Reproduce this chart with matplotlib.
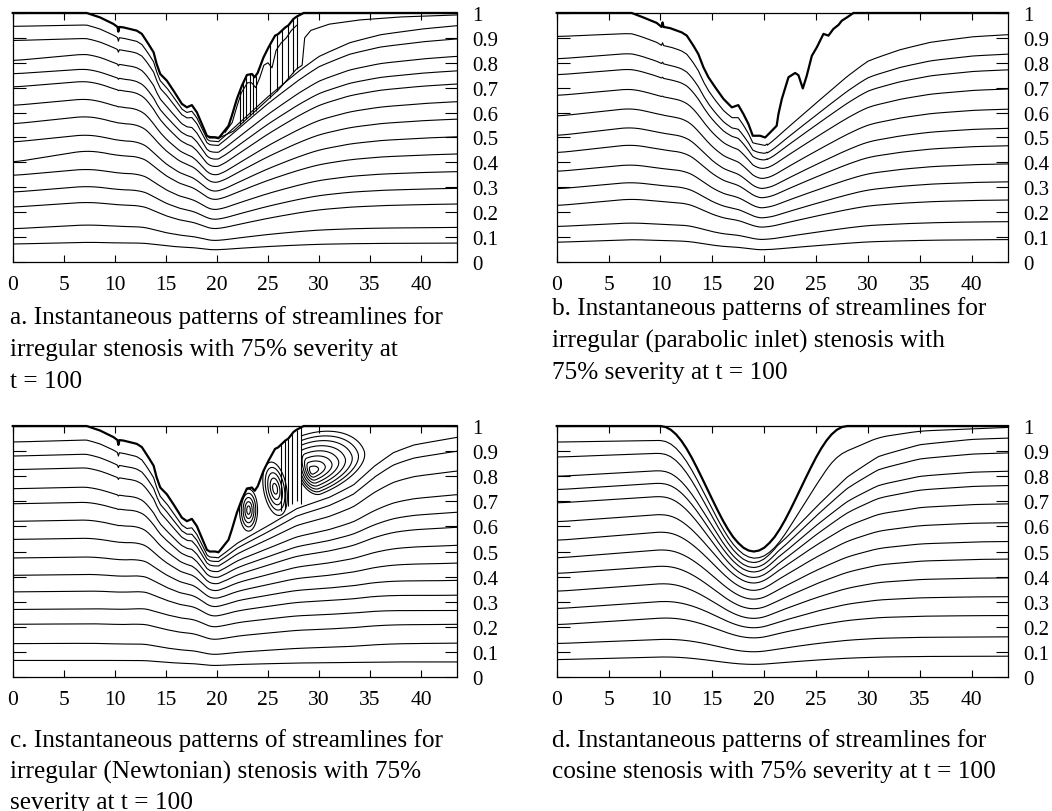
import numpy as np
import matplotlib.pyplot as plt

plt.rcParams['font.family'] = 'Liberation Serif'

X_MAX = 43.5
xs = np.linspace(0, X_MAX, 1741)

# irregular stenosis wall (panels a and c)
irr_wall_x = [0, 7.25, 8.56, 9.86, 10.26, 10.35, 10.45, 10.85, 12.15, 12.65, 13.3, 13.8, 14.1,
              14.45, 15.1, 15.75, 16.57, 17.06, 17.55, 18.04, 18.53, 19.02, 19.3, 19.83, 20.16,
              20.5, 21.14, 21.47, 21.96, 22.45, 22.94, 23.43, 23.7, 24.0, 24.57, 25.06, 25.7,
              26.0, 26.7, 27.0, 27.5, 27.8, 28.5, 43.5]
irr_wall_r = [1, 1, 0.982, 0.956, 0.944, 0.925, 0.944, 0.942, 0.929, 0.916, 0.875, 0.842, 0.795,
              0.755, 0.728, 0.688, 0.635, 0.621, 0.63, 0.601, 0.554, 0.507, 0.5, 0.5, 0.497,
              0.514, 0.547, 0.588, 0.655, 0.708, 0.751, 0.755, 0.742, 0.76, 0.822, 0.862, 0.909,
              0.915, 0.942, 0.95, 0.976, 0.985, 1, 1]

# irregular stenosis wall, parabolic inlet run (panel b)
par_wall_x = [0, 7.23, 8.35, 9.64, 10.1, 10.2, 10.3, 10.93, 12.05, 12.54, 13.17, 13.65, 14.14,
              14.62, 15.27, 16.07, 16.88, 17.5, 18.0, 18.48, 18.9, 19.6, 20.09, 20.57, 21.2,
              21.37, 21.7, 22.34, 22.98, 23.3, 23.72, 24.1, 24.59, 25.07, 25.71, 26.19, 26.67,
              27.16, 27.48, 27.97, 28.6, 43.5]
par_wall_r = [1, 1, 0.982, 0.96, 0.944, 0.962, 0.944, 0.939, 0.922, 0.909, 0.869, 0.835, 0.782,
              0.742, 0.702, 0.655, 0.621, 0.63, 0.594, 0.554, 0.507, 0.507, 0.5, 0.52, 0.547,
              0.594, 0.655, 0.742, 0.759, 0.75, 0.697, 0.748, 0.828, 0.862, 0.916, 0.909, 0.936,
              0.952, 0.969, 0.982, 1, 1]

# cosine stenosis wall (panel d)
cos_wall_x = [0, 10, 10.5, 11, 11.5, 12, 12.5, 13, 13.5, 14, 14.5, 15, 15.5, 16, 16.5, 17, 17.5,
              18, 18.5, 19, 19.5, 20, 20.5, 21, 21.5, 22, 22.5, 23, 23.5, 24, 24.5, 25, 25.5,
              26, 26.5, 27, 27.5, 28, 43.5]
cos_wall_r = [1, 1, 0.996, 0.985, 0.967, 0.942, 0.911, 0.875, 0.835, 0.793, 0.750, 0.707, 0.665,
              0.625, 0.589, 0.558, 0.534, 0.515, 0.504, 0.5, 0.504, 0.515, 0.534, 0.558, 0.589,
              0.625, 0.665, 0.707, 0.750, 0.793, 0.835, 0.875, 0.911, 0.942, 0.967, 0.985,
              0.996, 1, 1]

# streamline heights: inlet, upstream crest, throat, outlet
a_st_x = [0, 7, 20, 43.5]
a_inlet = [0.946, 0.889, 0.808, 0.755, 0.702, 0.628, 0.554, 0.481, 0.400, 0.347, 0.280, 0.220, 0.133, 0.072]
a_crest = [0.952, 0.898, 0.835, 0.775, 0.726, 0.655, 0.585, 0.511, 0.447, 0.373, 0.304, 0.240, 0.149, 0.079]
a_throat = [0.483, 0.467, 0.438, 0.410, 0.380, 0.347, 0.317, 0.282, 0.249, 0.209, 0.170, 0.133, 0.086, 0.049]
a_outlet = [0.949, 0.896, 0.826, 0.768, 0.715, 0.644, 0.574, 0.503, 0.434, 0.363, 0.296, 0.233, 0.139, 0.076]
a_env_x = [20.2, 22, 25, 28, 30, 33, 36, 40, 43.5]
a_env_r = [0.5, 0.57, 0.69, 0.8, 0.865, 0.925, 0.96, 0.985, 1.0]
# separated streamline under the rough downstream wall
a_sep_x = [19.2, 20.3, 21.6, 24.0, 26.0, 27.8, 28.35, 28.6, 29.2, 31.0, 34.0, 38.0, 43.5]
a_sep_y = [0.505, 0.5, 0.525, 0.615, 0.69, 0.775, 0.79, 0.9, 0.93, 0.955, 0.972, 0.984, 0.992]
a_inner_x = [20.8, 21.5, 22.0, 22.4, 22.7, 23.0, 23.4, 23.8, 24.2, 24.6, 25.0, 25.4, 25.8, 26.3, 26.8, 27.3, 27.8]
a_inner_y = [0.52, 0.56, 0.63, 0.68, 0.70, 0.72, 0.72, 0.70, 0.74, 0.79, 0.80, 0.78, 0.85, 0.88, 0.90, 0.93, 0.95]
a_spike_x = [22.3, 22.6, 22.9, 23.2, 23.5, 23.8, 25.2, 25.9, 26.4, 27.0, 27.5, 27.8]

b_st_x = [0, 7, 20, 43.5]
b_inlet = [0.905, 0.815, 0.751, 0.668, 0.585, 0.507, 0.438, 0.363, 0.293, 0.226, 0.142, 0.079]
b_crest = [0.918, 0.838, 0.775, 0.695, 0.617, 0.541, 0.471, 0.391, 0.320, 0.253, 0.157, 0.090]
b_throat = [0.467, 0.434, 0.407, 0.373, 0.333, 0.293, 0.256, 0.216, 0.176, 0.139, 0.090, 0.049]
b_outlet = [0.913, 0.835, 0.772, 0.695, 0.614, 0.537, 0.467, 0.394, 0.322, 0.249, 0.162, 0.090]
b_env_x = [20.3, 22, 25, 28, 30, 33, 36, 40, 43.5]
b_env_r = [0.5, 0.57, 0.69, 0.81, 0.88, 0.93, 0.965, 0.99, 1.0]

c_st_x = [0, 8, 20, 43.5]
c_inlet = [0.936, 0.880, 0.826, 0.750, 0.690, 0.620, 0.548, 0.474, 0.405, 0.339, 0.269, 0.210, 0.133, 0.066]
c_crest = [0.936, 0.880, 0.826, 0.750, 0.690, 0.620, 0.548, 0.474, 0.405, 0.339, 0.269, 0.210, 0.133, 0.066]
c_throat = [0.474, 0.458, 0.440, 0.418, 0.395, 0.370, 0.343, 0.313, 0.280, 0.243, 0.200, 0.150, 0.090, 0.046]
c_outlet = [0.955, 0.900, 0.821, 0.727, 0.657, 0.597, 0.525, 0.454, 0.385, 0.326, 0.265, 0.210, 0.135, 0.060]
c_env_x = [20.2, 22, 25, 27.8, 31, 33.4, 35.4, 37.3, 39.3, 43.5]
c_env_r = [0.5, 0.56, 0.63, 0.70, 0.745, 0.795, 0.87, 0.925, 0.955, 0.985]
# recirculation cells behind the stenosis
c_eddy_cx = [29.3, 25.7, 23.1]
c_eddy_cy = [0.82, 0.75, 0.665]
c_eddy_left = [14, 11.5, 9]
c_eddy_right = [55, 11.5, 9]
c_eddy_top = [36, 27, 21]
c_eddy_bottom = [24, 27, 21]
c_eddy_angle = [22, 10, 0]
c_eddy_xmin = [28.25, 24.3, 21.9]
c_eddy_levels = [[0.13, 0.26, 0.39, 0.52, 0.65, 0.78, 0.9, 1.02],
                 [0.2, 0.4, 0.6, 0.8, 1.0],
                 [0.2, 0.4, 0.6, 0.8, 1.0]]
c_vert_x = [26.3, 26.7, 27.0, 27.35, 27.8, 28.25]
c_vert_bottom = [0.66, 0.67, 0.68, 0.69, 0.70, 0.69]

d_st_x = [0, 10, 19, 43.5]
d_inlet = [0.876, 0.799, 0.746, 0.693, 0.618, 0.544, 0.474, 0.412, 0.341, 0.272, 0.208, 0.133, 0.069]
d_crest = [0.892, 0.823, 0.773, 0.720, 0.648, 0.578, 0.507, 0.442, 0.372, 0.301, 0.235, 0.150, 0.080]
d_throat = [0.454, 0.434, 0.416, 0.394, 0.372, 0.343, 0.308, 0.270, 0.232, 0.195, 0.155, 0.100, 0.050]
d_outlet = [0.952, 0.893, 0.820, 0.763, 0.690, 0.615, 0.540, 0.470, 0.395, 0.320, 0.245, 0.160, 0.083]
d_env_x = [19.2, 22, 25, 28, 31, 35, 40, 43.5]
d_env_r = [0.5, 0.6, 0.73, 0.85, 0.93, 0.975, 0.995, 1.0]
# wall-hugging streamline
d_top_x = [0, 10, 19, 25, 28, 31, 35, 43.5]
d_top_y = [0.936, 0.943, 0.474, 0.76, 0.9, 0.955, 0.98, 0.995]

x_ticks = [0, 5, 10, 15, 20, 25, 30, 35, 40]
y_ticks = [0, 0.1, 0.2, 0.3, 0.4, 0.5, 0.6, 0.7, 0.8, 0.9, 1]
y_labels = ['0', '0.1', '0.2', '0.3', '0.4', '0.5', '0.6', '0.7', '0.8', '0.9', '1']

cap_a = ["a. Instantaneous patterns of streamlines for",
         "irregular stenosis with 75% severity at", "t = 100"]
cap_b = ["b. Instantaneous patterns of streamlines for",
         "irregular (parabolic inlet) stenosis with", "75% severity at t = 100"]
cap_c = ["c. Instantaneous patterns of streamlines for",
         "irregular (Newtonian) stenosis with 75%", "severity at t = 100"]
cap_d = ["d. Instantaneous patterns of streamlines for",
         "cosine stenosis with 75% severity at t = 100"]

LW = 0.8


def smooth(v, n):
    k = np.ones(n) / n
    p = np.pad(v, (n // 2, n - 1 - n // 2), mode='edge')
    return np.convolve(p, k, mode='valid')


def rough_base(base, eta):
    # lines near the wall keep its roughness, lines near the axis see a smoothed wall
    base_s = smooth(base, 81)
    w = np.clip(eta, 0, 1) ** 5
    return base_s + w * (base - base_s)


def streamline(ax, e, st_x, st_y):
    # relative height eta = y / e moves from one station profile to the next
    # as the channel narrows (upstream) or the jet spreads again (downstream)
    x_in, x_cr, x_th, x_out = st_x
    es = smooth(e, 81)
    e_st = np.interp(st_x, xs, e)
    eta_in, eta_cr, eta_th, eta_out = np.asarray(st_y) / e_st
    es_th = np.interp(x_th, xs, es)
    eta = np.empty_like(xs)
    m = xs <= x_cr
    eta[m] = eta_in + (eta_cr - eta_in) * xs[m] / x_cr
    m = (xs > x_cr) & (xs <= x_th)
    s = np.clip((1 - es[m]) / (1 - es_th), 0, 1)
    eta[m] = eta_cr + (eta_th - eta_cr) * s
    m = xs > x_th
    s = np.clip((es[m] - es_th) / (es[-1] - es_th), 0, 1)
    eta[m] = eta_th + (eta_out - eta_th) * s
    eta = smooth(eta, 121)
    ax.plot(xs, eta * rough_base(e, eta), color='k', lw=LW)


def streamline_stations(ax, base, st_x, st_y, n=81):
    b_st = np.interp(st_x, xs, base)
    eta = smooth(np.interp(xs, st_x, np.asarray(st_y) / b_st), n)
    ax.plot(xs, eta * rough_base(base, eta), color='k', lw=LW)


def draw_panel(ax, wall_x, wall_r, env_x, env_r, st_x, stations):
    r = np.interp(xs, wall_x, wall_r)
    e = np.where(xs < env_x[0], r, np.minimum(r, np.interp(xs, env_x, env_r)))
    for h in np.column_stack(stations):
        streamline(ax, e, st_x, h)
    ax.plot(wall_x, wall_r, color='k', lw=1.6, clip_on=False, zorder=3)
    return r


def eddy(ax, cx, cy, su_l, su_r, sv_t, sv_b, angle, levels, x_min, wall_x, wall_r):
    gx = np.linspace(cx - 9, cx + 9, 500)
    gy = np.linspace(cy - 0.35, cy + 0.35, 350)
    X, Y = np.meshgrid(gx, gy)
    dx = (X - cx) * 10.2
    dy = (Y - cy) * 251
    t = np.deg2rad(angle)
    u = dx * np.cos(t) + dy * np.sin(t)
    v = -dx * np.sin(t) + dy * np.cos(t)
    su = np.where(u > 0, su_r, su_l)
    sv = np.where(v > 0, sv_t, sv_b)
    F = np.hypot(u / su, v / sv)
    top = np.interp(X, wall_x, wall_r)
    F = np.ma.masked_where((X < x_min) | (Y > top), F)
    ax.contour(X, Y, F, levels=levels, colors='k', linewidths=LW)


def style(ax):
    ax.set_xlim(0, X_MAX)
    ax.set_ylim(0, 1)
    ax.set_xticks(x_ticks)
    ax.set_xticklabels([str(t) for t in x_ticks])
    ax.set_yticks(y_ticks)
    ax.set_yticklabels(y_labels)
    ax.tick_params(axis='x', direction='in', top=True, length=5, width=0.8,
                   labelsize=15.5, pad=9)
    ax.tick_params(axis='y', direction='in', left=True, right=True, length=9, width=0.8,
                   labelleft=False, labelright=True, labelsize=15, pad=11)
    for s in ax.spines.values():
        s.set_linewidth(0.9)


fig = plt.figure(figsize=(10.52, 8.12), dpi=100)
ax_a = fig.add_axes([0.0121, 0.6761, 0.4221, 0.3067])
ax_b = fig.add_axes([0.5292, 0.6761, 0.4290, 0.3067])
ax_c = fig.add_axes([0.0121, 0.1650, 0.4221, 0.3091])
ax_d = fig.add_axes([0.5292, 0.1650, 0.4290, 0.3091])

# a: irregular stenosis
draw_panel(ax_a, irr_wall_x, irr_wall_r, a_env_x, a_env_r, a_st_x,
           [a_inlet, a_crest, a_throat, a_outlet])
ax_a.plot(a_sep_x, a_sep_y, color='k', lw=LW)
ax_a.plot(a_inner_x, a_inner_y, color='k', lw=LW)
ax_a.vlines(a_spike_x, np.interp(a_spike_x, a_sep_x, a_sep_y),
            np.interp(a_spike_x, irr_wall_x, irr_wall_r), color='k', lw=LW)

# b: parabolic inlet
draw_panel(ax_b, par_wall_x, par_wall_r, b_env_x, b_env_r, b_st_x,
           [b_inlet, b_crest, b_throat, b_outlet])

# c: Newtonian, with recirculation behind the throat
draw_panel(ax_c, irr_wall_x, irr_wall_r, c_env_x, c_env_r, c_st_x,
           [c_inlet, c_crest, c_throat, c_outlet])
for i in range(len(c_eddy_cx)):
    eddy(ax_c, c_eddy_cx[i], c_eddy_cy[i], c_eddy_left[i], c_eddy_right[i],
         c_eddy_top[i], c_eddy_bottom[i], c_eddy_angle[i], c_eddy_levels[i],
         c_eddy_xmin[i], irr_wall_x, irr_wall_r)
ax_c.vlines(c_vert_x, c_vert_bottom, np.interp(c_vert_x, irr_wall_x, irr_wall_r),
            color='k', lw=LW)

# d: cosine stenosis
r_d = draw_panel(ax_d, cos_wall_x, cos_wall_r, d_env_x, d_env_r, d_st_x,
                 [d_inlet, d_crest, d_throat, d_outlet])
streamline_stations(ax_d, r_d, d_top_x, d_top_y)

for ax in (ax_a, ax_b, ax_c, ax_d):
    style(ax)


def caption(lines, x_px, y_px):
    for line, y in zip(lines, y_px):
        fig.text(x_px / 1052, 1 - y / 812, line, fontsize=18.2, va='center', ha='left')


caption(cap_a, 10, [318, 350, 382])
caption(cap_b, 552, [309, 341, 373])
caption(cap_c, 10, [741, 772, 803])
caption(cap_d, 552, [741, 772])

fig.savefig('out.png', dpi=100)
